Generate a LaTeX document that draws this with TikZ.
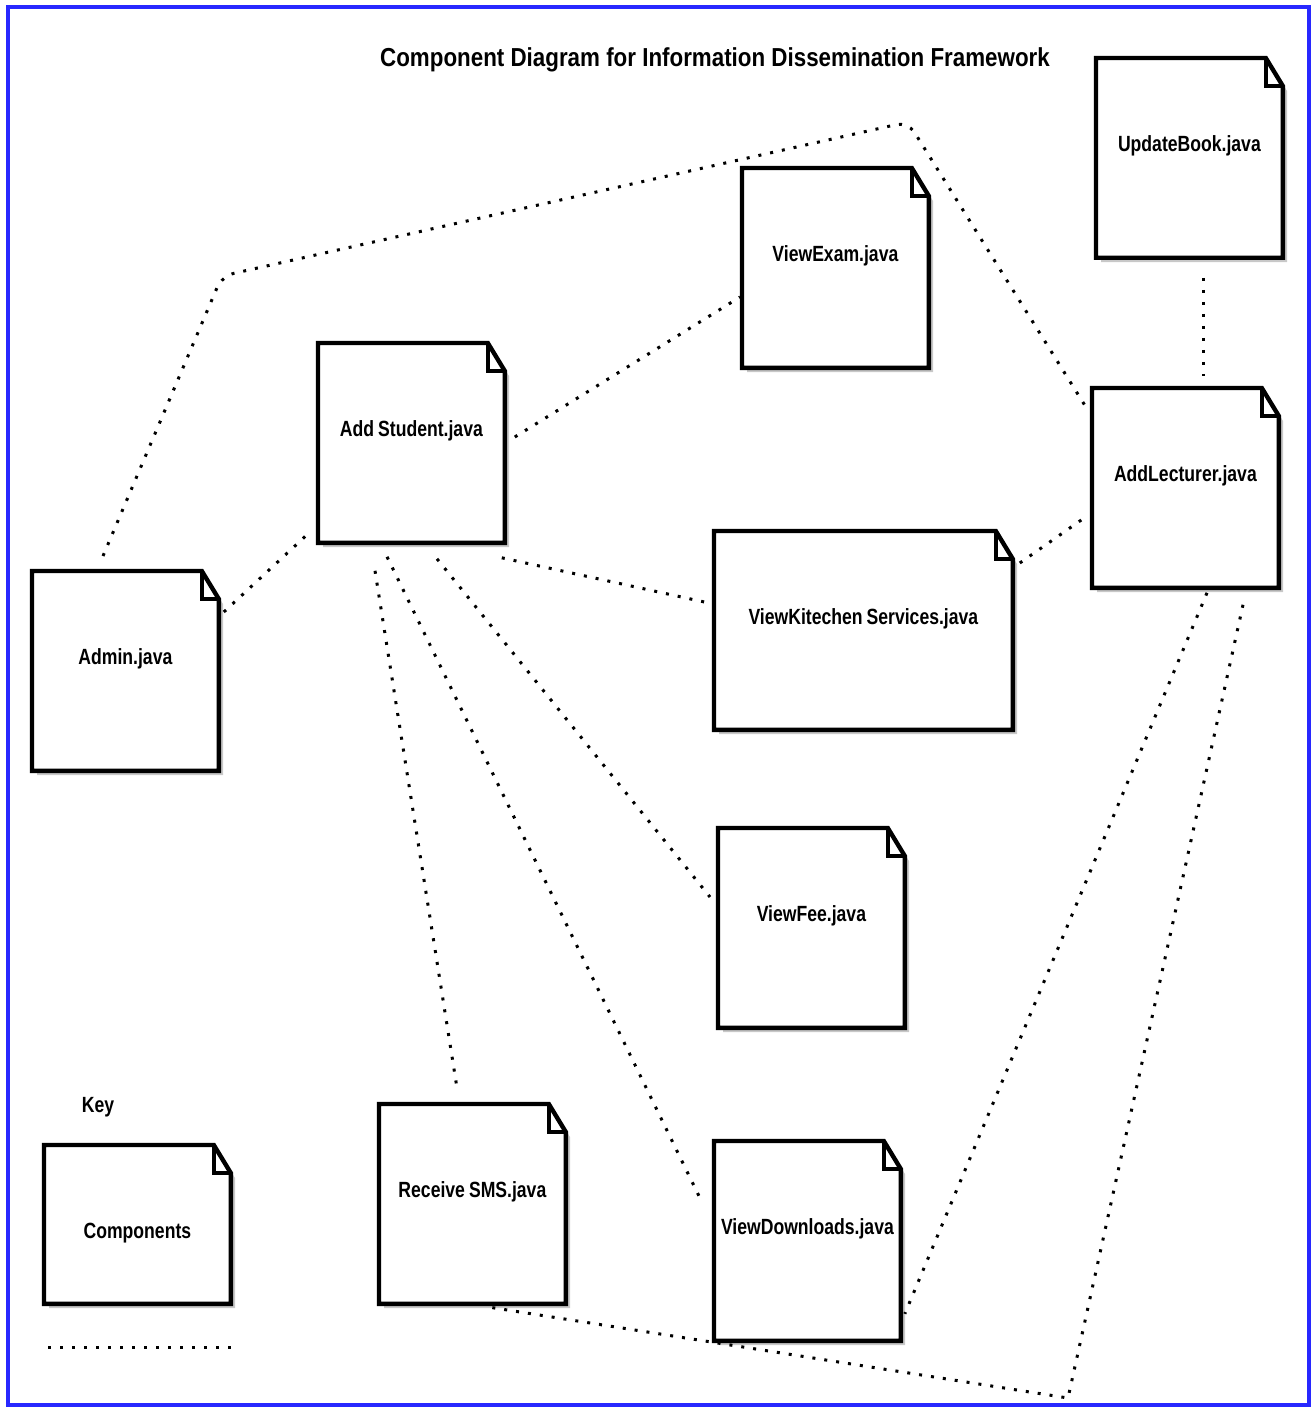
\documentclass[tikz,border=0pt]{standalone}
\usepackage{fontspec}
\usetikzlibrary{calc}
\newfontfamily\narrowsans[FakeStretch=0.8]{Liberation Sans}
\newfontfamily\titlesans[FakeStretch=0.86]{Liberation Sans}
\definecolor{frameblue}{RGB}{40,40,255}
\definecolor{shadegray}{RGB}{200,200,200}

% A UML component drawn as a sheet with a folded corner and a soft shadow.
% #1 name, #2 x, #3 y (top left, px), #4 width, #5 height, #6 text
% The text sits at a fixed distance below the top edge: it is set in a box
% of no size whose baseline lies on the centre, and raised from there.
\newcommand\umlcomponent[6]{%
  \pgfmathsetmacro\textraise{(#5/2-93)*0.5}%
  \fill[compshade] (#2+5,#3+5) -- (#2+#4+5-17,#3+5) -- (#2+#4+5,#3+5+28)
    -- (#2+#4+5,#3+#5+5) -- (#2+5,#3+#5+5) -- cycle;
  \node[compbody, minimum width=#4*0.5pt, minimum height=#5*0.5pt] (#1) at (#2,#3)
    {\raisebox{\textraise pt}[0pt][0pt]{#6}};
  \draw[compedge] (#1.north west) -- ([xshift=-8.5pt]#1.north east)
    -- ([yshift=-14pt]#1.north east) -- (#1.south east) -- (#1.south west) -- cycle;
  \draw[compedge] ([xshift=-8.5pt]#1.north east) |- ([yshift=-14pt]#1.north east);
}

\begin{document}
\begin{tikzpicture}[x=0.5pt, y=-0.5pt,
  compbody/.style={rectangle, inner sep=0pt, fill=white, anchor=north west,
    font=\narrowsans\bfseries\fontsize{11}{13}\selectfont},
  compedge/.style={draw=black, line width=2.2pt, line join=miter},
  compshade/.style={fill=shadegray},
  link/.style={draw=black, line width=1.5pt, dash pattern=on 1.5pt off 4.5pt},
  title/.style={font=\titlesans\bfseries\fontsize{13}{15}\selectfont},
  keytext/.style={font=\narrowsans\bfseries\fontsize{11}{13}\selectfont}]

% page and frame
\fill[white] (0,0) rectangle (1312,1407);
\useasboundingbox (0,0) rectangle (1312,1407);
\draw[frameblue, line width=2pt] (8,7) rectangle (1309,1405);

\node[title] (heading) at (715,60) {Component Diagram for Information Dissemination Framework};

% components
\umlcomponent{updatebook}{1096}{58}{186}{199}{UpdateBook.java}
\umlcomponent{viewexam}{742}{168}{186}{199}{ViewExam.java}
\umlcomponent{addstudent}{318}{343}{186}{199}{Add\kern2pt Student.java}
\umlcomponent{addlecturer}{1092}{388}{186}{199}{AddLecturer.java}
\umlcomponent{viewkitchen}{714}{531}{298}{198}{ViewKitechen\kern2pt Services.java}
\umlcomponent{admin}{32}{571}{186}{199}{Admin.java}
\umlcomponent{viewfee}{718}{828}{186}{199}{ViewFee.java}
\umlcomponent{receivesms}{379}{1104}{186}{199}{Receive\kern2pt SMS.java}
\umlcomponent{viewdownloads}{714}{1141}{186}{199}{ViewDownloads.java}

% key
\node[keytext] (keylabel) at (98,1107) {Key};
\umlcomponent{keycomp}{44}{1145}{186}{158}{Components}
\coordinate (keyA) at (48,1347);
\coordinate (keyB) at (235,1347);
\draw[link] (keyA) -- (keyB);

% bend points of the long connectors
\coordinate (bendA) at (222,276);
\coordinate (bendB) at (908,122);
\coordinate (bendC) at (1068,1398);

% connectors
\draw[link, rounded corners=6pt] ([shift={(71,-15)}]admin.north west) -- (bendA) -- (bendB)
  -- ([shift={(-3,24)}]addlecturer.north west);
\draw[link] ([shift={(5,41)}]admin.north east) -- ([shift={(-10,-9)}]addstudent.south west);
\draw[link] ([shift={(10,94)}]addstudent.north east) -- ([shift={(-2,129)}]viewexam.north west);
\draw[link] ([shift={(-3,15)}]addstudent.south east) -- ([shift={(-5,72)}]viewkitchen.north west);
\draw[link] ([shift={(119,16)}]addstudent.south west) -- ([shift={(-8,69)}]viewfee.north west);
\draw[link] ([shift={(69,14)}]addstudent.south west) -- ([shift={(-15,55)}]viewdownloads.north west);
\draw[link] ([shift={(57,28)}]addstudent.south west) -- ([shift={(78,-16)}]receivesms.north west);
\draw[link] ([shift={(7,32)}]viewkitchen.north east) -- ([shift={(-5,128)}]addlecturer.north west);
\draw[link] ([shift={(115,5)}]addlecturer.south west) -- ([shift={(4,-27)}]viewdownloads.south east);
\draw[link] ([shift={(151,17)}]addlecturer.south west) -- (bendC) -- ([shift={(108,3)}]receivesms.south west);
\draw[link] ([shift={(107,20)}]updatebook.south west) -- ([shift={(111,-12)}]addlecturer.north west);

\end{tikzpicture}
\end{document}
